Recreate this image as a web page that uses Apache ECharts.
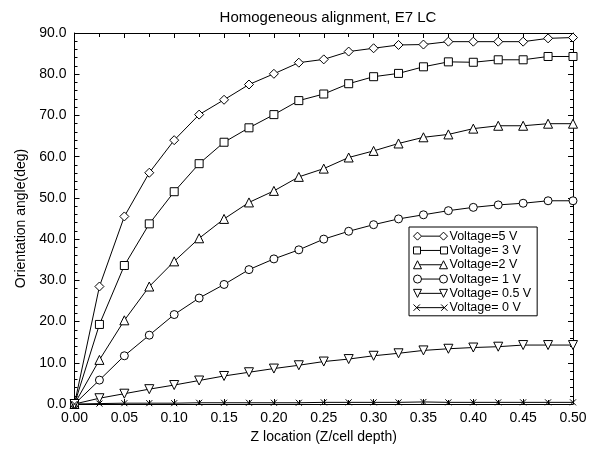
<!DOCTYPE html>
<html>
<head>
<meta charset="utf-8">
<script src="https://cdn.jsdelivr.net/npm/echarts@6/dist/echarts.min.js"></script>
<style>
  html, body { margin: 0; padding: 0; background: #fff; }
  #chart { width: 599px; height: 449px; }
</style>
</head>
<body>
<div id="chart"></div>
<script>
// Z location (Z / cell depth)
const zLocation = [0, 0.025, 0.05, 0.075, 0.1, 0.125, 0.15, 0.175, 0.2, 0.225, 0.25,
                   0.275, 0.3, 0.325, 0.35, 0.375, 0.4, 0.425, 0.45, 0.475, 0.5];

// Orientation angle (deg) for each applied voltage
const v5  = [0, 28.5, 45.5, 56.1, 64.0, 70.2, 73.8, 77.5, 80.1, 82.8, 83.6,
             85.5, 86.3, 87.1, 87.2, 87.9, 87.9, 87.9, 87.9, 88.7, 88.9];
const v3  = [0, 19.3, 33.6, 43.7, 51.5, 58.3, 63.5, 67.0, 70.2, 73.6, 75.2,
             77.7, 79.4, 80.2, 81.8, 83.0, 82.9, 83.5, 83.5, 84.3, 84.3];
const v2  = [0, 10.7, 20.3, 28.5, 34.6, 40.2, 44.9, 48.9, 51.7, 55.1, 57.1,
             59.8, 61.4, 63.2, 64.7, 65.4, 66.8, 67.5, 67.5, 68.0, 68.0];
const v1  = [0, 5.8, 11.7, 16.7, 21.7, 25.7, 29.0, 32.6, 35.2, 37.4, 40.0,
             41.9, 43.5, 44.9, 45.9, 46.9, 47.7, 48.3, 48.7, 49.3, 49.3];
const v05 = [0, 1.4, 2.5, 3.6, 4.6, 5.7, 6.8, 7.7, 8.6, 9.4, 10.3,
             10.9, 11.7, 12.3, 13.0, 13.4, 13.7, 13.9, 14.3, 14.3, 14.3];
const v0  = [0, 0.1, 0.2, 0.2, 0.2, 0.3, 0.3, 0.3, 0.3, 0.3, 0.4,
             0.4, 0.4, 0.4, 0.5, 0.4, 0.4, 0.4, 0.4, 0.4, 0.4];

const seriesNames = ['Voltage=5 V', 'Voltage= 3 V', 'Voltage=2 V',
                     'Voltage= 1 V', 'Voltage= 0.5 V', 'Voltage= 0 V'];
const seriesValues = [v5, v3, v2, v1, v05, v0];

const symbols = [
  'diamond',
  'rect',
  'triangle',
  'circle',
  'path://M0,0 L10,0 L5,9 Z',
  'path://M0,0 L10,10 M10,0 L0,10'
];
const symbolSizes = [9, 8, 9, 8, 9, 6];

// Legend keys: marker, connecting line, marker (drawn in a 34 x 8 box)
const legendIcons = [
  'path://M0,4 L4,0 L8,4 L4,8 Z M8,4 L26,4 M26,4 L30,0 L34,4 L30,8 Z',
  'path://M0,0.5 L7,0.5 L7,7.5 L0,7.5 Z M7,4 L27,4 M27,0.5 L34,0.5 L34,7.5 L27,7.5 Z',
  'path://M0,8 L4,0 L8,8 Z M6,4 L28,4 M26,8 L30,0 L34,8 Z',
  'path://M0,4 A4,4 0 1,1 8,4 A4,4 0 1,1 0,4 Z M8,4 L26,4 M26,4 A4,4 0 1,1 34,4 A4,4 0 1,1 26,4 Z',
  'path://M0,0 L8,0 L4,8 Z M6,4 L28,4 M26,0 L34,0 L30,8 Z',
  'path://M1,1 L7,7 M7,1 L1,7 M4,4 L30,4 M27,1 L33,7 M33,1 L27,7'
];

const FONT = 'Liberation Sans, Arial, Helvetica, sans-serif';

const series = seriesNames.map((name, i) => ({
  name: name,
  type: 'line',
  data: zLocation.map((z, k) => [z, seriesValues[i][k]]),
  symbol: symbols[i],
  symbolSize: symbolSizes[i],
  showAllSymbol: true,
  lineStyle: { color: '#000', width: 1 },
  itemStyle: { color: '#fff', borderColor: '#000', borderWidth: 1 },
  emphasis: { disabled: true },
  animation: false,
  z: 3
}));

const tickStyle = { color: '#000', width: 1 };

const option = {
  backgroundColor: '#fff',
  animation: false,
  title: {
    text: 'Homogeneous alignment, E7 LC',
    left: 323,
    textAlign: 'center',
    top: 5,
    textStyle: { fontFamily: FONT, fontSize: 15, fontWeight: 'normal', color: '#000' }
  },
  legend: {
    orient: 'vertical',
    left: 409,
    top: 227,
    width: 124,
    backgroundColor: '#fff',
    borderColor: '#000',
    borderWidth: 1,
    borderRadius: 0,
    padding: [2, 6, 1, 4],
    itemWidth: 34,
    itemHeight: 8,
    itemGap: 0,
    textStyle: { fontFamily: FONT, fontSize: 12.5, lineHeight: 14.3, color: '#000', padding: [0, 0, 0, -3] },
    inactiveColor: '#000',
    selectedMode: false,
    data: seriesNames.map((n, i) => ({
      name: n,
      icon: legendIcons[i],
      itemStyle: { color: '#fff', borderColor: '#000', borderWidth: 1 }
    }))
  },
  grid: { left: 74.5, right: 26, top: 33, bottom: 39, containLabel: false },
  xAxis: [{
    type: 'value',
    min: 0, max: 0.5, interval: 0.05,
    name: 'Z location (Z/cell depth)',
    nameLocation: 'middle',
    nameGap: 26,
    nameTextStyle: { fontFamily: FONT, fontSize: 14, color: '#000' },
    axisLine: { show: true, onZero: false, lineStyle: { color: '#000', width: 1 } },
    axisTick: { show: true, inside: true, length: 5, lineStyle: tickStyle },
    minorTick: { show: true, splitNumber: 2, length: 4, lineStyle: tickStyle },
    splitLine: { show: false },
    axisLabel: {
      margin: 7,
      fontFamily: FONT, fontSize: 14, color: '#000',
      formatter: v => v.toFixed(2)
    }
  }, {
    type: 'value',
    position: 'top',
    min: 0, max: 0.5, interval: 0.05,
    axisLine: { show: true, onZero: false, lineStyle: { color: '#000', width: 1 } },
    axisTick: { show: true, inside: true, length: 5, lineStyle: tickStyle },
    minorTick: { show: true, splitNumber: 2, length: 4, lineStyle: tickStyle },
    splitLine: { show: false },
    axisLabel: { show: false }
  }],
  yAxis: [{
    type: 'value',
    min: 0, max: 90, interval: 10,
    name: 'Orientation angle(deg)',
    nameLocation: 'middle',
    nameGap: 46,
    nameTextStyle: { fontFamily: FONT, fontSize: 14, color: '#000' },
    axisLine: { show: true, onZero: false, lineStyle: { color: '#000', width: 1 } },
    axisTick: { show: true, inside: true, length: 5, lineStyle: tickStyle },
    minorTick: { show: true, splitNumber: 5, length: 3, lineStyle: tickStyle },
    splitLine: { show: false },
    axisLabel: {
      margin: 8,
      fontFamily: FONT, fontSize: 14, color: '#000',
      formatter: v => v.toFixed(1)
    }
  }, {
    type: 'value',
    position: 'right',
    min: 0, max: 90, interval: 10,
    axisLine: { show: true, onZero: false, lineStyle: { color: '#000', width: 1 } },
    axisTick: { show: true, inside: true, length: 5, lineStyle: tickStyle },
    minorTick: { show: true, splitNumber: 5, length: 3, lineStyle: tickStyle },
    splitLine: { show: false },
    axisLabel: { show: false }
  }],
  series: series
};

const chart = echarts.init(document.getElementById('chart'), null, { renderer: 'canvas' });
chart.setOption(option);
</script>
</body>
</html>
